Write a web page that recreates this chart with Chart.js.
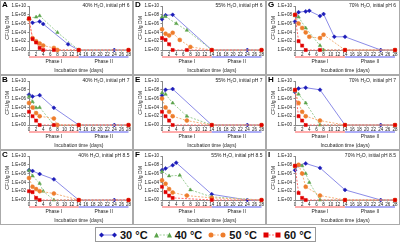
<!DOCTYPE html>
<html>
<head>
<meta charset="utf-8">
<script src="https://cdn.jsdelivr.net/npm/chart.js@4.4.0/dist/chart.umd.min.js"></script>
<style>
  body { margin: 0; background: #fff; width: 400px; height: 242px; overflow: hidden; position: relative; font-family: "Liberation Sans", Arial, sans-serif; }
  canvas.panel { position: absolute; }
  #legend { position: absolute; left: 95px; top: 227px; width: 219px; height: 13px; border: 1px solid #999; display: flex; align-items: center; font-weight: bold; font-size: 11px; color: #111; white-space: nowrap; }
  #legend span.item { display: flex; align-items: center; flex-shrink: 0; margin-left: 3px; margin-right: 3px; }
  #legend svg { margin-right: 3px; flex-shrink: 0; }
</style>
</head>
<body>
<div id="legend"></div>
<script>
// days / CFU per g DM, zero counts plotted at 1.E+00
const temps = ['30 °C', '40 °C', '50 °C', '60 °C'];
const letters = ['A', 'B', 'C', 'D', 'E', 'F', 'G', 'H', 'I'];
const waterLevels = ['40%', '55%', '70%'];
const phLevels = ['6', '7', '8.5'];
const xTicks = [0, 2, 4, 6, 8, 10, 12, 14, 16, 18, 20, 22, 24, 26, 28];
const yExponents = [0, 2, 4, 6, 8, 10];

// 40% H2O, pH 6
const A30 = [[0, 1e7], [1, 1.5e6], [3, 3e6], [4, 8e5], [11, 2e1], [14, 1], [24, 1], [28, 1]];
const A40 = [[0, 2e7], [2, 3e7], [3, 6e7], [8, 1e4], [14, 1], [28, 1]];
const A50 = [[0, 1e7], [1, 5e2], [2, 1e2], [3, 3e1], [4, 1e1], [7, 3], [8, 1], [14, 1], [28, 1]];
const A60 = [[0, 1.5e7], [1, 3e2], [2, 5e1], [3, 3], [4, 1], [7, 1], [14, 1], [28, 1]];
// 40% H2O, pH 7
const B30 = [[0, 8e6], [1, 3e6], [3, 6e6], [7, 8e3], [14, 1], [24, 1], [28, 1]];
const B40 = [[0, 3e6], [1, 2e5], [2, 8e3], [3, 1e4], [7, 1], [14, 1], [28, 1]];
const B50 = [[0, 1e5], [1, 1e4], [2, 5e2], [3, 1e2], [7, 3e1], [8, 1], [14, 1], [28, 1]];
const B60 = [[0, 1e3], [1, 1e2], [2, 1e1], [3, 1], [7, 1], [14, 1], [28, 1]];
// 40% H2O, pH 8.5
const C30 = [[0, 6e6], [1, 4e6], [3, 8e5], [7, 5e4], [14, 1], [24, 1], [28, 1]];
const C40 = [[0, 5e6], [1, 3e5], [3, 6e3], [4, 1e2], [7, 1], [14, 1], [28, 1]];
const C50 = [[0, 1e5], [1, 1e3], [2, 3e2], [3, 1e2], [7, 3e1], [14, 1], [28, 1]];
const C60 = [[0, 1e2], [1, 6e1], [2, 3], [3, 1], [14, 1], [28, 1]];
// 55% H2O, pH 6
const D30 = [[0, 1e7], [1, 8e7], [3, 1e8], [14, 1], [24, 1], [28, 1]];
const D40 = [[0, 3e7], [1, 4e7], [4, 1e6], [7, 3e4], [14, 1], [28, 1]];
const D50 = [[0, 5e4], [1, 5e3], [2, 2e3], [3, 8e3], [5, 2e2], [8, 5], [14, 1], [28, 1]];
const D60 = [[0, 5e2], [1, 2e2], [2, 2e1], [3, 1], [7, 1], [14, 1], [28, 1]];
// 55% H2O, pH 7
const E30 = [[0, 5e6], [1, 1e8], [3, 1.5e8], [14, 1], [24, 1], [28, 1]];
const E40 = [[0, 2e7], [1, 1e7], [3, 1e5], [7, 1e2], [14, 1], [28, 1]];
const E50 = [[0, 1e6], [1, 1e4], [2, 1e3], [3, 1e2], [7, 1e1], [14, 1], [28, 1]];
const E60 = [[0, 1e3], [1, 1e2], [2, 1e1], [3, 1], [14, 1], [28, 1]];
// 55% H2O, pH 8.5
const F30 = [[0, 6e6], [1, 1.5e7], [3, 8e7], [4, 3e8], [14, 2e1], [24, 1], [28, 1]];
const F40 = [[0, 3e6], [2, 3e5], [5, 4e5], [8, 2e2], [14, 5], [28, 1]];
const F50 = [[0, 3e4], [1, 5e3], [2, 3e2], [3, 5e1], [7, 1e1], [14, 3], [28, 1]];
const F60 = [[0, 1e3], [1, 6e1], [2, 1e1], [3, 3], [14, 1], [28, 1]];
// 70% H2O, pH 6
const G30 = [[0, 3e6], [1, 4e8], [3, 6e8], [4, 8e8], [7, 5e7], [8, 1.5e8], [11, 1e3], [14, 1e3], [24, 1], [28, 1]];
const G40 = [[0, 6e7], [1, 3e7], [3, 1e5], [7, 1e1], [8, 1], [14, 1], [28, 1]];
const G50 = [[0, 1e8], [1, 1e6], [2, 1e5], [3, 1e4], [4, 1e3], [7, 5e2], [8, 3e3], [14, 1], [28, 1]];
const G60 = [[0, 1e8], [1, 1e2], [2, 1e1], [3, 1], [7, 1], [14, 1], [28, 1]];
// 70% H2O, pH 7
const H30 = [[0, 3e7], [1, 2e8], [3, 3e8], [7, 1e8], [14, 1], [24, 1], [28, 1]];
const H40 = [[0, 5e7], [1, 1e7], [3, 1e5], [7, 1], [14, 1], [28, 1]];
const H50 = [[0, 8e7], [1, 1e5], [2, 1e3], [3, 1e2], [7, 1e1], [14, 1], [28, 1]];
const H60 = [[0, 1e8], [1, 1e2], [2, 1e1], [3, 1], [14, 1], [28, 1]];
// 70% H2O, pH 8.5
const I30 = [[0, 6e6], [1, 8e7], [3, 2e8], [7, 2e7], [14, 2e2], [24, 1], [28, 1]];
const I40 = [[0, 3e7], [2, 6e7], [3, 1e6], [4, 1e4], [7, 1], [14, 1], [28, 1]];
const I50 = [[0, 5e7], [1, 1e8], [2, 1e6], [3, 1e3], [7, 1e1], [14, 1], [28, 1]];
const I60 = [[0, 6e7], [1, 4e1], [2, 3], [3, 1], [14, 1], [28, 1]];

const panelData = [
  [A30, A40, A50, A60], [B30, B40, B50, B60], [C30, C40, C50, C60],
  [D30, D40, D50, D60], [E30, E40, E50, E60], [F30, F40, F50, F60],
  [G30, G40, G50, G60], [H30, H40, H50, H60], [I30, I40, I50, I60]
];

const lineColors = ['#8c8ce8', '#9fcf9a', '#f4b27c', '#ff6b6b'];
const markColors = ['#1c1cb8', '#5aa34a', '#ee7d2c', '#e00000'];
const markStyles = ['rectRot', 'triangle', 'circle', 'rect'];
const dashes = [[], [2, 1.5], [2, 1.5], [2, 1.5]];

const panelDecor = {
  id: 'panelDecor',
  beforeDraw(chart) {
    const ctx = chart.ctx;
    ctx.save();
    ctx.fillStyle = '#fff';
    ctx.fillRect(0, 0, chart.width, chart.height);
    ctx.strokeStyle = '#aaa';
    ctx.lineWidth = 1;
    ctx.strokeRect(0.5, 0.5, chart.width - 1, chart.height - 1);
    ctx.restore();
  },
  afterDraw(chart, args, opts) {
    const ctx = chart.ctx;
    const x = chart.scales.x;
    const ph = chart.chartArea.bottom + 7;
    ctx.save();
    ctx.fillStyle = '#000';
    ctx.font = 'bold 8px "Liberation Sans", Arial, sans-serif';
    ctx.textBaseline = 'middle';
    ctx.textAlign = 'left';
    ctx.fillText(opts.letter, 2, 5);
    ctx.font = '5px "Liberation Sans", Arial, sans-serif';
    ctx.textAlign = 'right';
    ctx.fillStyle = '#222';
    ctx.fillText(opts.title, chart.chartArea.right + 1, 6);
    ctx.lineWidth = 1;
    ctx.strokeStyle = '#ff5a5a';
    ctx.beginPath();
    ctx.moveTo(x.getPixelForValue(0), ph);
    ctx.lineTo(x.getPixelForValue(14), ph);
    ctx.stroke();
    ctx.strokeStyle = '#5a5af0';
    ctx.beginPath();
    ctx.moveTo(x.getPixelForValue(14), ph);
    ctx.lineTo(x.getPixelForValue(28), ph);
    ctx.stroke();
    ctx.textAlign = 'center';
    ctx.fillStyle = '#222';
    ctx.fillText('Phase I', x.getPixelForValue(7), ph + 5);
    ctx.fillText('Phase II', x.getPixelForValue(21), ph + 5);
    ctx.restore();
  }
};

function makePanel(i) {
  const col = Math.floor(i / 3);
  const row = i % 3;
  const canvas = document.createElement('canvas');
  canvas.className = 'panel';
  const w = col === 2 ? 134 : 133;
  canvas.width = w;
  canvas.height = 75;
  canvas.style.left = (col * 133) + 'px';
  canvas.style.top = (row * 75) + 'px';
  document.body.appendChild(canvas);

  const datasets = panelData[i].map((series, k) => ({
    label: temps[k],
    data: series.map(p => ({ x: p[0], y: p[1] })),
    borderColor: lineColors[k],
    borderWidth: 1,
    borderDash: dashes[k],
    pointStyle: markStyles[k],
    pointRadius: k === 3 ? 2.2 : 2,
    pointBackgroundColor: markColors[k],
    pointBorderColor: markColors[k],
    pointBorderWidth: 0.5,
    tension: 0,
    clip: 4
  })).reverse();

  new Chart(canvas, {
    type: 'line',
    data: { datasets: datasets },
    plugins: [panelDecor],
    options: {
      responsive: false,
      animation: false,
      layout: { padding: { left: 0, right: w - 129, top: 6, bottom: 0 } },
      plugins: {
        legend: { display: false },
        tooltip: { enabled: false },
        panelDecor: { letter: letters[i], title: waterLevels[col] + ' H\u2082O, initial pH ' + phLevels[row] }
      },
      scales: {
        x: {
          type: 'linear', min: 0, max: 28,
          afterBuildTicks: s => { s.ticks = xTicks.map(v => ({ value: v })); },
          ticks: { font: { size: 4.5 }, color: '#222', padding: 0.5, maxRotation: 0, autoSkip: false },
          grid: { drawOnChartArea: false, drawTicks: true, tickLength: 1.5, color: '#888' },
          border: { color: '#888' },
          title: { display: true, text: 'Incubation time (days)', font: { size: 5 }, color: '#222', padding: { top: 0, bottom: 1 } },
          afterFit: s => { s.height = 25; }
        },
        y: {
          type: 'logarithmic', min: 1, max: 1e10,
          afterBuildTicks: s => { s.ticks = yExponents.map(e => ({ value: Math.pow(10, e) })); },
          ticks: {
            font: { size: 4.5 }, color: '#222', padding: 1.5,
            callback: v => '1.E+' + String(Math.round(Math.log10(v))).padStart(2, '0')
          },
          grid: { drawOnChartArea: false, drawTicks: true, tickLength: 1.5, color: '#888' },
          border: { color: '#888' },
          title: { display: true, text: 'CFU/g DM', font: { size: 5 }, color: '#222', padding: { top: 5, bottom: 0 } },
          afterFit: s => { s.width = 29; }
        }
      }
    }
  });
}

for (let i = 0; i < 9; i++) makePanel(i);

// legend
const legendSvg = [
  '<svg width="18" height="8"><line x1="2" y1="4" x2="16" y2="4" stroke="#8c8ce8" stroke-width="1"/><path d="M2.5 1.5L5 4L2.5 6.5L0 4Z" fill="#1c1cb8"/><path d="M15.5 1.5L18 4L15.5 6.5L13 4Z" fill="#1c1cb8"/></svg>',
  '<svg width="18" height="8"><line x1="2" y1="4" x2="16" y2="4" stroke="#9fcf9a" stroke-width="1" stroke-dasharray="2 1.5"/><path d="M2.5 1.5L5 6.5L0 6.5Z" fill="#5aa34a"/><path d="M15.5 1.5L18 6.5L13 6.5Z" fill="#5aa34a"/></svg>',
  '<svg width="18" height="8"><line x1="2" y1="4" x2="16" y2="4" stroke="#f4b27c" stroke-width="1" stroke-dasharray="2 1.5"/><circle cx="3" cy="4" r="2.5" fill="#ee7d2c"/><circle cx="15" cy="4" r="2.5" fill="#ee7d2c"/></svg>',
  '<svg width="18" height="8"><line x1="2" y1="4" x2="16" y2="4" stroke="#ff6b6b" stroke-width="1" stroke-dasharray="2 1.5"/><rect x="0.5" y="1.5" width="5" height="5" fill="#e00000"/><rect x="12.5" y="1.5" width="5" height="5" fill="#e00000"/></svg>'
];
const legend = document.getElementById('legend');
temps.forEach((t, k) => {
  const item = document.createElement('span');
  item.className = 'item';
  item.innerHTML = legendSvg[k] + '<span>' + t + '</span>';
  legend.appendChild(item);
});
</script>
</body>
</html>
